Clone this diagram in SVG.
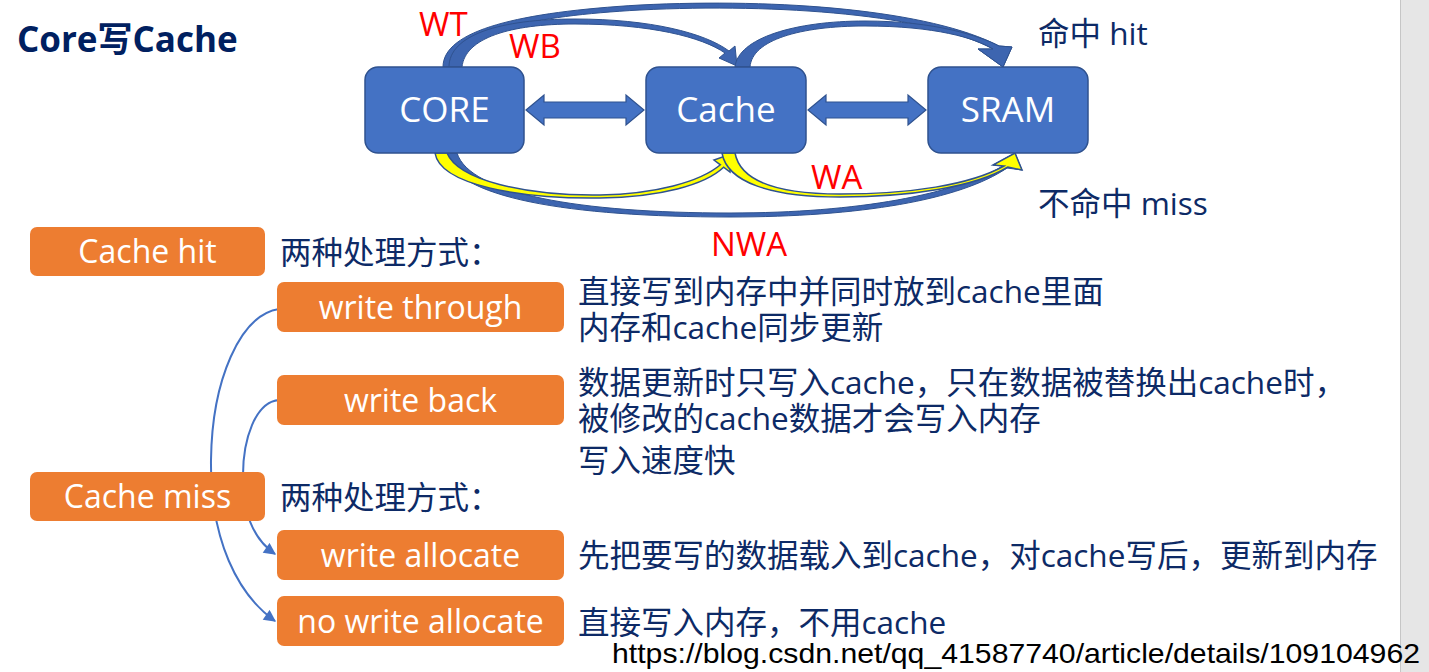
<svg xmlns="http://www.w3.org/2000/svg" width="1429" height="672" viewBox="0 0 1429 672">
<defs>
<style>
.bg{fill:#ffffff}
.bbox{fill:#4472C4;stroke:#2F528F;stroke-width:1.5}
.obox{fill:#ED7D31}
.btxt{font-family:"Open Sans","Noto Sans CJK SC",sans-serif;font-size:35px;fill:#ffffff;text-anchor:middle}
.otxt{font-family:"Open Sans","Noto Sans CJK SC",sans-serif;font-size:32px;fill:#ffffff;text-anchor:middle}
.ntxt{font-family:"Open Sans","Noto Sans CJK SC",sans-serif;font-size:31.5px;fill:#0D2A66}
.rtxt{font-family:"Open Sans","Noto Sans CJK SC",sans-serif;font-size:33px;fill:#FF0000}
.arc{fill:#3D65B0;stroke:#2F528F;stroke-width:1}
.yarc{fill:#FFFF00;stroke:#2F528F;stroke-width:1.5}
.dbl{fill:#4472C4;stroke:#2F528F;stroke-width:1.2}
.conn{fill:none;stroke:#4472C4;stroke-width:2}
</style>
<marker id="ah2" viewBox="0 0 10 10" refX="9" refY="5" markerWidth="14" markerHeight="12" orient="auto" markerUnits="userSpaceOnUse">
<path d="M0,0 L10,5 L0,10 z" fill="#4472C4"/>
</marker>
</defs>
<rect class="bg" x="0" y="0" width="1429" height="672"/>

<g id="title"><text x="17" y="52" style="font-family:'Open Sans','Noto Sans CJK SC',sans-serif;font-size:35px;font-weight:bold;fill:#002060">Core写Cache</text></g>

<g id="connectors">
<path class="arc" d="M443,67 C443,30 520,12 640,5 C780,-2 930,10 999,46 L1012,47 L1003,67 L978,49 L993,49 C930,15 780,3 640,10 C530,16 460,32 458,67 Z"/>
<path class="arc" d="M449,67 C449,35 500,19 575,19 C650,19 705,33 729,51 L735,46 L737,66 L719,58 L725,53 C702,37 650,24 575,24 C510,24 465,38 462,67 Z"/>
<path class="arc" d="M735,67 C738,38 795,21 865,21 C935,21 980,36 999,46 L1012,47 L1003,67 L978,49 L993,49 C975,38 935,26 865,26 C800,26 752,40 750,67 Z"/>
<path class="arc" d="M445,153 C452,198 570,217 730,217 C860,217 960,200 1007,168 L1022,170 L1015,153 L993,165 L1003,166 C955,194 860,213 730,213 C580,213 470,194 457,153 Z"/>
<path class="yarc" d="M435,153 C440,185 520,199 600,198 C660,197 705,185 723.6,167.2 L730,172 L731,154 L714,160 L720.4,164.8 C700,182 655,194 600,195 C525,196 458,180 447,153 Z"/>
<path class="yarc" d="M722,153 C727,182 770,197 840,197 C910,197 975,187 1008,167 L1022,170 L1015,153 L993,165 L1004,166 C970,185 910,194 840,194 C775,194 740,180 735,153 Z"/>
<path class="dbl" d="M526,110 L544,95 L544,102 L626,102 L626,95 L644,110 L626,125 L626,118 L544,118 L544,125 Z"/>
<path class="dbl" d="M808,110 L826,95 L826,102 L908,102 L908,95 L926,110 L908,125 L908,118 L826,118 L826,125 Z"/>
<path class="conn" d="M279,309 C240,315 212,380 211,460 C210,540 238,595 275,621" marker-end="url(#ah2)"/>
<path class="conn" d="M279,400 C255,402 243,440 243,475 C243,512 252,538 275,554" marker-end="url(#ah2)"/>
</g>

<g id="core"><rect class="bbox" x="365" y="67" width="159" height="86" rx="13"/><text class="btxt" x="444.5" y="122">CORE</text></g>
<g id="cache"><rect class="bbox" x="646" y="67" width="160" height="86" rx="13"/><text class="btxt" x="726" y="122">Cache</text></g>
<g id="sram"><rect class="bbox" x="928" y="67" width="160" height="86" rx="13"/><text class="btxt" x="1008" y="122">SRAM</text></g>

<g id="labels">
<text class="rtxt" x="419" y="36">WT</text>
<text class="rtxt" x="509" y="58">WB</text>
<text class="rtxt" x="811" y="189">WA</text>
<text class="rtxt" x="711" y="256">NWA</text>
<text class="ntxt" x="1038" y="45">命中 hit</text>
<text class="ntxt" x="1038" y="215">不命中 miss</text>
</g>

<g id="cache-hit"><rect class="obox" x="30" y="227" width="235" height="49" rx="7"/><text class="otxt" x="147.5" y="263">Cache hit</text></g>
<g id="cache-miss"><rect class="obox" x="30" y="472" width="235" height="49" rx="7"/><text class="otxt" x="147.5" y="508">Cache miss</text></g>
<g id="write-through"><rect class="obox" x="277" y="282" width="287" height="50" rx="7"/><text class="otxt" x="420.5" y="319">write through</text></g>
<g id="write-back"><rect class="obox" x="277" y="375" width="287" height="50" rx="7"/><text class="otxt" x="420.5" y="412">write back</text></g>
<g id="write-allocate"><rect class="obox" x="277" y="530" width="287" height="50" rx="7"/><text class="otxt" x="420.5" y="567">write allocate</text></g>
<g id="no-write-allocate"><rect class="obox" x="277" y="596" width="287" height="50" rx="7"/><text class="otxt" x="420.5" y="633">no write allocate</text></g>

<g id="texts">
<text class="ntxt" x="280" y="264">两种处理方式：</text>
<text class="ntxt" x="280" y="509">两种处理方式：</text>
<text class="ntxt" x="578" y="303">直接写到内存中并同时放到cache里面</text>
<text class="ntxt" x="578" y="339">内存和cache同步更新</text>
<text class="ntxt" x="578" y="394">数据更新时只写入cache，只在数据被替换出cache时，</text>
<text class="ntxt" x="578" y="430">被修改的cache数据才会写入内存</text>
<text class="ntxt" x="578" y="472">写入速度快</text>
<text class="ntxt" x="578" y="567">先把要写的数据载入到cache，对cache写后，更新到内存</text>
<text class="ntxt" x="578" y="634">直接写入内存，不用cache</text>
</g>

<g id="scrollbar"><rect x="1400" y="0" width="29" height="672" fill="#E6E6E6"/><line x1="1400.5" y1="0" x2="1400.5" y2="672" stroke="#C6C6C6" stroke-width="1"/></g>

<g id="watermark"><text x="612" y="663" textLength="808" lengthAdjust="spacingAndGlyphs" style="font-family:'Liberation Sans',sans-serif;font-size:28px;fill:#000000">https://blog.csdn.net/qq_41587740/article/details/109104962</text></g>
</svg>
